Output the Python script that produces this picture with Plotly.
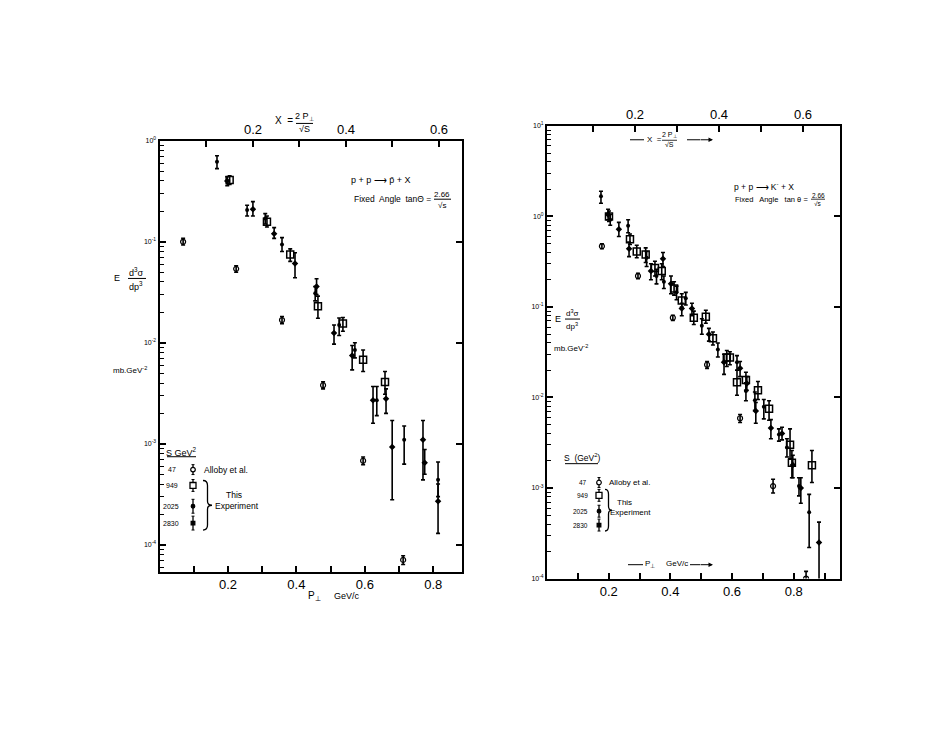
import plotly.graph_objects as go

W, H = 952, 736
OFF = 8  # page body margin offset of the plot div

# ================= LEFT PANEL: p + p -> pbar + X =================
# Allaby et al. (s = 47 GeV^2)
L47_pt  = [0.069, 0.224, 0.358, 0.478, 0.595, 0.712]
L47_val = [0.100, 0.054, 0.0168, 0.0038, 0.00068, 7.1e-5]
L47_hi  = [0.108, 0.058, 0.0182, 0.0041, 0.00074, 7.8e-5]
L47_lo  = [0.093, 0.050, 0.0155, 0.0035, 0.00062, 6.4e-5]
# s = 949 GeV^2
L949_pt  = [0.205, 0.314, 0.382, 0.463, 0.536, 0.595, 0.659]
L949_val = [0.41, 0.158, 0.075, 0.023, 0.0155, 0.0068, 0.0041]
L949_hi  = [0.45, 0.18, 0.085, 0.029, 0.0178, 0.0085, 0.0052]
L949_lo  = [0.37, 0.14, 0.064, 0.0175, 0.0130, 0.0052, 0.0031]
# s = 2025 GeV^2
L2025_pt  = [0.168, 0.256, 0.309, 0.358, 0.455, 0.525, 0.571, 0.635, 0.715, 0.814]
L2025_val = [0.62, 0.206, 0.17, 0.094, 0.031, 0.015, 0.0085, 0.0027, 0.0011, 4.4e-4]
L2025_hi  = [0.71, 0.23, 0.19, 0.11, 0.036, 0.0176, 0.010, 0.0037, 0.0015, 6.6e-4]
L2025_lo  = [0.53, 0.18, 0.15, 0.08, 0.026, 0.0118, 0.0071, 0.0019, 6.3e-4, 3.0e-4]
# s = 2830 GeV^2
L2830_pt  = [0.198, 0.273, 0.335, 0.396, 0.459, 0.510, 0.563, 0.624, 0.662, 0.680, 0.770, 0.775, 0.814]
L2830_val = [0.40, 0.21, 0.12, 0.061, 0.036, 0.0125, 0.0075, 0.0027, 0.0028, 0.00093, 0.0011, 0.00065, 2.7e-4]
L2830_hi  = [0.44, 0.25, 0.138, 0.078, 0.043, 0.015, 0.0094, 0.0037, 0.0035, 0.0017, 0.0017, 0.00088, 4.0e-4]
L2830_lo  = [0.36, 0.18, 0.108, 0.044, 0.030, 0.0097, 0.0054, 0.0016, 0.0020, 2.8e-4, 4.4e-4, 5.0e-4, 1.3e-4]

# ================= RIGHT PANEL: p + p -> K- + X =================
R47_pt  = [0.178, 0.295, 0.408, 0.519, 0.626, 0.733, 0.840]
R47_val = [0.47, 0.22, 0.076, 0.023, 0.0059, 0.00105, 1.0e-4]
R47_hi  = [0.50, 0.235, 0.081, 0.025, 0.0065, 0.00125, 1.2e-4]
R47_lo  = [0.44, 0.205, 0.071, 0.021, 0.0053, 0.00088, 0.85e-4]

R949_pt  = [0.201, 0.269, 0.291, 0.320, 0.350, 0.372, 0.412, 0.437, 0.476, 0.515,
            0.538, 0.583, 0.593, 0.616, 0.645, 0.684, 0.720, 0.788, 0.794, 0.859]
R949_val = [1.0, 0.56, 0.41, 0.38, 0.27, 0.25, 0.16, 0.118, 0.076, 0.078,
            0.045, 0.0276, 0.0276, 0.0147, 0.0156, 0.012, 0.0075, 0.003, 0.0019, 0.00178]
R949_hi  = [1.15, 0.64, 0.48, 0.45, 0.32, 0.30, 0.19, 0.14, 0.090, 0.092,
            0.053, 0.033, 0.032, 0.020, 0.019, 0.015, 0.0092, 0.0045, 0.0026, 0.0026]
R949_lo  = [0.88, 0.49, 0.35, 0.31, 0.22, 0.20, 0.135, 0.10, 0.064, 0.066,
            0.038, 0.022, 0.023, 0.0106, 0.012, 0.0095, 0.0056, 0.0021, 0.0013, 0.00115]

R2025_pt  = [0.175, 0.205, 0.263, 0.323, 0.355, 0.379, 0.420, 0.450, 0.502, 0.554,
             0.616, 0.645, 0.674, 0.703, 0.752, 0.778, 0.817, 0.850]
R2025_val = [1.67, 0.92, 0.79, 0.35, 0.22, 0.19, 0.145, 0.125, 0.062, 0.034,
             0.0245, 0.0118, 0.0093, 0.0079, 0.0039, 0.0028, 0.00105, 5.4e-4]
R2025_hi  = [1.9, 1.05, 0.92, 0.41, 0.26, 0.22, 0.17, 0.145, 0.074, 0.040,
             0.029, 0.0145, 0.0115, 0.0095, 0.0045, 0.0035, 0.0013, 8.5e-4]
R2025_lo  = [1.4, 0.80, 0.66, 0.28, 0.18, 0.16, 0.12, 0.105, 0.050, 0.028,
             0.020, 0.0092, 0.0072, 0.0058, 0.0033, 0.0022, 0.00082, 2.2e-4]

R2830_pt  = [0.198, 0.233, 0.266, 0.337, 0.376, 0.402, 0.437, 0.470, 0.525, 0.574,
             0.626, 0.648, 0.677, 0.726, 0.762, 0.797, 0.823, 0.882]
R2830_val = [1.05, 0.72, 0.44, 0.25, 0.34, 0.18, 0.096, 0.096, 0.050, 0.0245,
             0.021, 0.0143, 0.0071, 0.0046, 0.0040, 0.0018, 0.0010, 2.5e-4]
R2830_hi  = [1.2, 0.86, 0.52, 0.30, 0.40, 0.22, 0.11, 0.11, 0.058, 0.030,
             0.025, 0.017, 0.0088, 0.0057, 0.0047, 0.0023, 0.0013, 4.2e-4]
R2830_lo  = [0.92, 0.60, 0.36, 0.20, 0.28, 0.14, 0.08, 0.08, 0.042, 0.018,
             0.017, 0.012, 0.0052, 0.0035, 0.0034, 0.0013, 0.00068, 0.9e-4]

# tick labels
X_BOTTOM_TICKS = [0.1, 0.2, 0.3, 0.4, 0.5, 0.6, 0.7, 0.8, 0.9]
X_BOTTOM_TEXT  = ["", "0.2", "", "0.4", "", "0.6", "", "0.8", ""]
X_TOP_TICKS = [0.1, 0.2, 0.3, 0.4, 0.5, 0.6]
X_TOP_TEXT  = ["", "0.2", "", "0.4", "", "0.6"]
L_DECADES = [1e-4, 1e-3, 1e-2, 1e-1, 1]
L_DECADE_TEXT = ["10<sup>-4</sup>", "10<sup>-3</sup>", "10<sup>-2</sup>", "10<sup>-1</sup>", "10<sup>0</sup>"]
R_DECADES = [1e-4, 1e-3, 1e-2, 1e-1, 1, 10]
R_DECADE_TEXT = ["10<sup>-4</sup>", "10<sup>-3</sup>", "10<sup>-2</sup>", "10<sup>-1</sup>", "10<sup>0</sup>", "10<sup>1</sup>"]

FONT = "Liberation Sans"

fig = go.Figure()

M47 = dict(symbol="circle-open", size=5, color="black", line=dict(width=1.2, color="black"))
M949 = dict(symbol="square-open", size=7, color="black", line=dict(width=1.5, color="black"))
M2025 = dict(symbol="circle", size=4, color="black")
M2830 = dict(symbol="diamond", size=5, color="black")


def add_series(pt, val, hi, lo, xa, ya, marker):
    fig.add_trace(go.Scatter(
        x=pt, y=val, mode="markers", xaxis=xa, yaxis=ya, showlegend=False,
        marker=marker, hoverinfo="skip",
        error_y=dict(type="data", symmetric=False,
                     array=[h - v for h, v in zip(hi, val)],
                     arrayminus=[v - l for v, l in zip(val, lo)],
                     color="black", thickness=1.6, width=2)))


add_series(L47_pt, L47_val, L47_hi, L47_lo, "x", "y", M47)
add_series(L949_pt, L949_val, L949_hi, L949_lo, "x", "y", M949)
add_series(L2025_pt, L2025_val, L2025_hi, L2025_lo, "x", "y", M2025)
add_series(L2830_pt, L2830_val, L2830_hi, L2830_lo, "x", "y", M2830)

add_series(R47_pt, R47_val, R47_hi, R47_lo, "x3", "y3", M47)
add_series(R949_pt, R949_val, R949_hi, R949_lo, "x3", "y3", M949)
add_series(R2025_pt, R2025_val, R2025_hi, R2025_lo, "x3", "y3", M2025)
add_series(R2830_pt, R2830_val, R2830_hi, R2830_lo, "x3", "y3", M2830)

# dummy traces so the secondary (frame) axes are drawn
for xa, ya in [("x2", "y"), ("x", "y2"), ("x4", "y3"), ("x3", "y4")]:
    fig.add_trace(go.Scatter(x=[None], y=[None], xaxis=xa, yaxis=ya,
                             showlegend=False, hoverinfo="skip"))


def minor_vals(kmin, kmax):
    return [m * 10.0 ** k for k in range(kmin, kmax + 1) for m in range(2, 10)]


def px(x, y):
    return (x - OFF) / W, 1 - (y - OFF) / H


LX = [px(159.5, 0)[0], px(462, 0)[0]]
LY = [px(0, 573)[1], px(0, 138)[1]]
RX = [px(547, 0)[0], px(840, 0)[0]]
RY = [px(0, 580)[1], px(0, 123)[1]]

axis_common = dict(showline=True, linecolor="black", linewidth=2, showgrid=False,
                   zeroline=False, ticks="inside", tickcolor="black", tickwidth=1.5)

fig.update_layout(
    width=W, height=H, autosize=False,
    margin=dict(l=0, r=0, t=0, b=0),
    paper_bgcolor="white", plot_bgcolor="white",
    font=dict(family=FONT, color="black"),
    xaxis=dict(domain=LX, range=[0, 0.884], anchor="y", tickvals=X_BOTTOM_TICKS,
               ticktext=X_BOTTOM_TEXT, ticklen=6, tickfont=dict(size=13), **axis_common),
    yaxis=dict(domain=LY, type="log", range=[-4.265, 0], anchor="x", tickvals=L_DECADES,
               ticktext=L_DECADE_TEXT, ticklen=6, tickfont=dict(size=7),
               minor=dict(ticks="inside", ticklen=4, tickwidth=1, tickcolor="black",
                          tickvals=minor_vals(-5, -1), showgrid=False),
               **axis_common),
    xaxis2=dict(overlaying="x", side="top", anchor="y", range=[-0.001, 0.6495],
                tickvals=X_TOP_TICKS, ticktext=X_TOP_TEXT, ticklen=6,
                tickfont=dict(size=13), **axis_common),
    yaxis2=dict(overlaying="y", side="right", anchor="x", type="log", range=[-4.265, 0],
                tickvals=L_DECADES, showticklabels=False, ticklen=6, **axis_common),
    xaxis3=dict(domain=RX, range=[0, 0.95], anchor="y3", tickvals=X_BOTTOM_TICKS,
                ticktext=X_BOTTOM_TEXT, ticklen=6, tickfont=dict(size=13), **axis_common),
    yaxis3=dict(domain=RY, type="log", range=[-4, 1], anchor="x3", tickvals=R_DECADES,
                ticktext=R_DECADE_TEXT, ticklen=6, tickfont=dict(size=7),
                minor=dict(ticks="inside", ticklen=4, tickwidth=1, tickcolor="black",
                           tickvals=minor_vals(-4, 0), showgrid=False),
                **axis_common),
    xaxis4=dict(overlaying="x3", side="top", anchor="y3", range=[-0.0095, 0.688],
                tickvals=X_TOP_TICKS, ticktext=X_TOP_TEXT, ticklen=6,
                tickfont=dict(size=13), **axis_common),
    yaxis4=dict(overlaying="y3", side="right", anchor="x3", type="log", range=[-4, 1],
                tickvals=R_DECADES, showticklabels=False, ticklen=6, **axis_common),
)

annotations = []
shapes = []


def ann(text, x, y, size=9, xanchor="center", **kw):
    xp, yp = px(x, y)
    annotations.append(dict(text=text, x=xp, y=yp, xref="paper", yref="paper",
                            showarrow=False, xanchor=xanchor, yanchor="middle",
                            font=dict(size=size, family=FONT, color="black"), **kw))


def hline(x0, x1, y, width=1):
    a0, b0 = px(x0, y)
    a1, _ = px(x1, y)
    shapes.append(dict(type="line", xref="paper", yref="paper", x0=a0, x1=a1, y0=b0, y1=b0,
                       line=dict(color="black", width=width)))


def vline(x, y0, y1, width=1.5):
    a, b0 = px(x, y0)
    _, b1 = px(x, y1)
    shapes.append(dict(type="line", xref="paper", yref="paper", x0=a, x1=a, y0=b0, y1=b1,
                       line=dict(color="black", width=width)))


def arrow(x0, x1, y):
    a1, b = px(x1, y)
    annotations.append(dict(text="", x=a1, y=b, ax=-(x1 - x0), ay=0, xref="paper", yref="paper",
                            axref="pixel", ayref="pixel", showarrow=True, arrowhead=2,
                            arrowsize=0.9, arrowwidth=1, arrowcolor="black"))


def brace(x0, y0, y1, w):
    # right-pointing curly brace "}" in pixel coordinates
    ym = (y0 + y1) / 2
    xm = x0 + w / 2
    pts = lambda x, y: "%.5f,%.5f" % px(x, y)
    path = ("M " + pts(x0, y0) + " Q " + pts(xm, y0) + " " + pts(xm, y0 + 5) +
            " L " + pts(xm, ym - 4) + " Q " + pts(xm, ym) + " " + pts(x0 + w, ym) +
            " Q " + pts(xm, ym) + " " + pts(xm, ym + 4) +
            " L " + pts(xm, y1 - 5) + " Q " + pts(xm, y1) + " " + pts(x0, y1))
    shapes.append(dict(type="path", xref="paper", yref="paper", path=path,
                       line=dict(color="black", width=1.3)))


def marker_circle(x, y, r=2.5, fill=False):
    a0, b0 = px(x - r, y + r)
    a1, b1 = px(x + r, y - r)
    shapes.append(dict(type="circle", xref="paper", yref="paper", x0=a0, x1=a1, y0=b0, y1=b1,
                       line=dict(color="black", width=1.2),
                       fillcolor="black" if fill else "white"))


def marker_rect(x, y, r=3, fill=False):
    a0, b0 = px(x - r, y + r)
    a1, b1 = px(x + r, y - r)
    shapes.append(dict(type="rect", xref="paper", yref="paper", x0=a0, x1=a1, y0=b0, y1=b1,
                       line=dict(color="black", width=1.3),
                       fillcolor="black" if fill else "white"))


def legend_item(x, y, kind, half=6):
    vline(x, y - half, y + half, 1.3)
    hline(x - 1.5, x + 1.5, y - half, 1)
    hline(x - 1.5, x + 1.5, y + half, 1)
    if kind == "47":
        marker_circle(x, y, 2.3)
    elif kind == "949":
        marker_rect(x, y, 3)
    elif kind == "2025":
        marker_circle(x, y, 1.8, fill=True)
    else:
        marker_rect(x, y, 1.8, fill=True)


# ---------- left panel texts ----------
ann("X  =", 284, 118, size=10)
ann("2 P<sub>⊥</sub>", 304, 114, size=9)
hline(296, 313, 120.5, 1)
ann("√S", 304, 126, size=9)

ann("p + p ⟶ p̄ + X", 381, 178, size=9)
ann("Fixed  Angle  tanΘ =", 433, 197, size=8.5, xanchor="right")
ann("2.66", 442, 192, size=8)
hline(434, 451, 197, 1)
ann("√s", 442, 203, size=8)

ann("E", 117, 277, size=9)
ann("d<sup>3</sup>σ", 136, 270, size=9)
hline(128, 146, 277, 1)
ann("dp<sup>3</sup>", 136, 285, size=9)
ann("mb.GeV<sup>-2</sup>", 130, 369, size=8)

ann("P<sub>⊥</sub>", 314, 598, size=10)
ann("GeV/c", 347, 598, size=9)

# left legend
ann("S GeV<sup>2</sup>", 181, 452, size=9)
hline(167, 196, 457, 1)
ann("47", 178, 470, size=7, xanchor="right")
ann("Alloby et al.", 202, 470, size=8.5, xanchor="left")
ann("949", 180, 486, size=7, xanchor="right")
ann("2025", 181, 507, size=7, xanchor="right")
ann("2830", 181, 524, size=7, xanchor="right")
legend_item(193, 470, "47", 5)
legend_item(193, 486, "949", 6)
legend_item(193, 507, "2025", 7)
legend_item(193, 524, "2830", 7)
brace(203, 481, 531, 9)
ann("This", 234, 496, size=8.5)
ann("Experiment", 237, 507, size=8.5)

# ---------- right panel texts ----------
hline(630, 644, 137, 1)
ann("X  =", 654, 137, size=8)
ann("2 P<sub>⊥</sub>", 669, 132, size=7)
hline(662, 677, 137.5, 0.8)
ann("√S", 669, 142, size=7)
hline(687, 700, 137, 1)
arrow(699, 713, 137)

ann("p + p ⟶ K<sup>-</sup> + X", 764, 184, size=8.5)
ann("Fixed   Angle   tan θ =", 810, 197, size=7.5, xanchor="right")
ann("2.66", 818, 193, size=6.5)
hline(811, 825, 197, 0.8)
ann("√s", 818, 201, size=6.5)

ann("E", 558, 318, size=9)
ann("d<sup>3</sup>σ", 572, 312, size=8)
hline(565, 580, 318, 1)
ann("dp<sup>3</sup>", 572, 325, size=8)
ann("mb.GeV<sup>-2</sup>", 571, 347, size=8)

hline(628, 643, 566, 1)
ann("P<sub>⊥</sub>", 650, 565, size=8)
ann("GeV/c", 677, 565, size=8)
hline(690, 700, 566, 1)
arrow(699, 713, 566)

# right legend
ann("S  (GeV<sup>2</sup>)", 582, 458, size=8.5)
hline(565, 598, 464, 1)
ann("47", 589, 483, size=6.5, xanchor="right")
ann("Alloby et al.", 607, 483, size=8, xanchor="left")
ann("949", 590, 496, size=6.5, xanchor="right")
ann("2025", 590, 512, size=6.5, xanchor="right")
ann("2830", 590, 526, size=6.5, xanchor="right")
legend_item(599, 483, "47", 5)
legend_item(599, 496, "949", 6)
legend_item(599, 512, "2025", 6)
legend_item(599, 526, "2830", 6)
brace(605, 490, 532, 7)
ann("This", 624, 503, size=8)
ann("Experiment", 630, 513, size=8)

fig.update_layout(annotations=annotations, shapes=shapes)

fig.write_html("out.html")
